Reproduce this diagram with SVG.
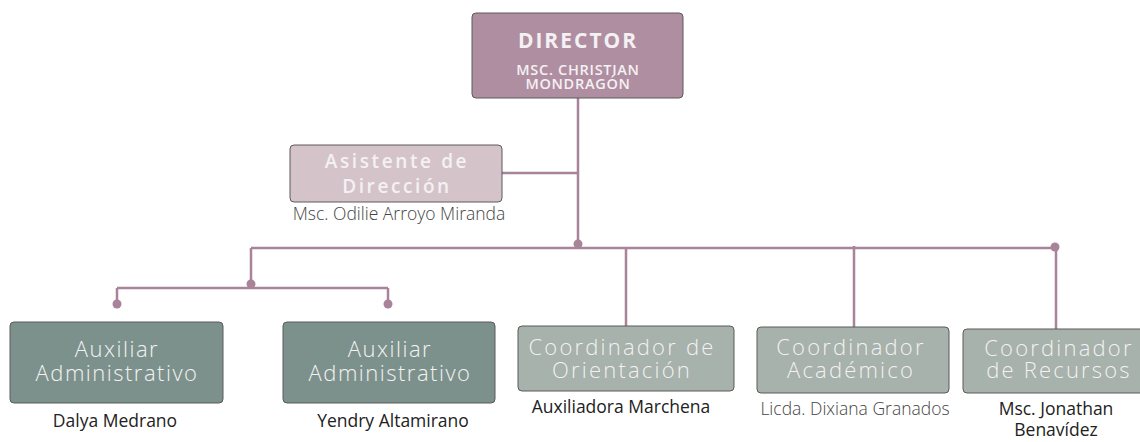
<svg xmlns="http://www.w3.org/2000/svg" width="1140" height="442" viewBox="0 0 1140 442">
<style>
.box{stroke:#5a5a5a;stroke-width:1;}
.dir{fill:#b08ea2;}
.asi{fill:#d5c3ca;}
.aux{fill:#7c918c;}
.coo{fill:#a6b2ab;}
.t{font-family:"Open Sans","Liberation Sans",sans-serif;text-anchor:middle;fill:#f4f1f2;}
.th{font-size:21px;font-weight:700;letter-spacing:2px;}
.ts{font-size:14.5px;font-weight:600;letter-spacing:0.7px;}
.ta{font-size:19px;font-weight:600;letter-spacing:2.6px;}
.tl{font-size:22px;font-weight:300;letter-spacing:1.5px;}
.tc{letter-spacing:2.2px;}
.n{font-family:"Open Sans","Liberation Sans",sans-serif;text-anchor:middle;font-size:17.5px;fill:#222;}
.nl{font-weight:300;fill:#444;}
.ln{stroke:#a88399;stroke-width:2.5;fill:none;}
.dot{fill:#a88399;}
</style>
<g id="connectors">
<path class="ln" d="M578 98V248M502 173H578M251 248H1056M251 248V288M117 288H388M117 288V304M388 288V304M626 248V326M854 246V327M1056 248V329"/>
<circle class="dot" cx="578" cy="244" r="4.5"/>
<circle class="dot" cx="251" cy="284" r="4.5"/>
<circle class="dot" cx="117" cy="304" r="4.5"/>
<circle class="dot" cx="388" cy="304" r="4.5"/>
<circle class="dot" cx="1055" cy="247" r="4.5"/>
</g>
<g id="director">
<rect class="box dir" x="472" y="13" width="211" height="85" rx="4"/>
<text class="t th" x="578" y="48">DIRECTOR</text>
<text class="t ts" x="578" y="75">MSC. CHRISTIAN</text>
<text class="t ts" x="578" y="89">MONDRAGÓN</text>
</g>
<g id="asistente">
<rect class="box asi" x="290" y="145" width="212" height="57" rx="4"/>
<text class="t ta" x="397" y="168">Asistente de</text>
<text class="t ta" x="397" y="193">Dirección</text>
<text class="n nl" x="399" y="220">Msc. Odilie Arroyo Miranda</text>
</g>
<g id="auxiliar1">
<rect class="box aux" x="10" y="322" width="213" height="81" rx="4"/>
<text class="t tl" x="117" y="357">Auxiliar</text>
<text class="t tl" x="117" y="381">Administrativo</text>
<text class="n" x="115" y="427">Dalya Medrano</text>
</g>
<g id="auxiliar2">
<rect class="box aux" x="283" y="322" width="212" height="81" rx="4"/>
<text class="t tl" x="390" y="357">Auxiliar</text>
<text class="t tl" x="390" y="381">Administrativo</text>
<text class="n" x="393" y="427">Yendry Altamirano</text>
</g>
<g id="orientacion">
<rect class="box coo" x="518" y="326" width="216" height="65" rx="4"/>
<text class="t tl tc" x="622" y="355">Coordinador de</text>
<text class="t tl tc" x="622" y="378">Orientación</text>
<text class="n" x="621" y="413">Auxiliadora Marchena</text>
</g>
<g id="academico">
<rect class="box coo" x="757" y="327" width="192" height="66" rx="4"/>
<text class="t tl tc" x="851" y="355">Coordinador</text>
<text class="t tl tc" x="851" y="378">Académico</text>
<text class="n nl" x="855" y="415">Licda. Dixiana Granados</text>
</g>
<g id="recursos">
<rect class="box coo" x="963" y="329" width="190" height="64" rx="4"/>
<text class="t tl tc" x="1059" y="356">Coordinador</text>
<text class="t tl tc" x="1059" y="378">de Recursos</text>
<text class="n" x="1056" y="415">Msc. Jonathan</text>
<text class="n" x="1056" y="436">Benavídez</text>
</g>
</svg>
